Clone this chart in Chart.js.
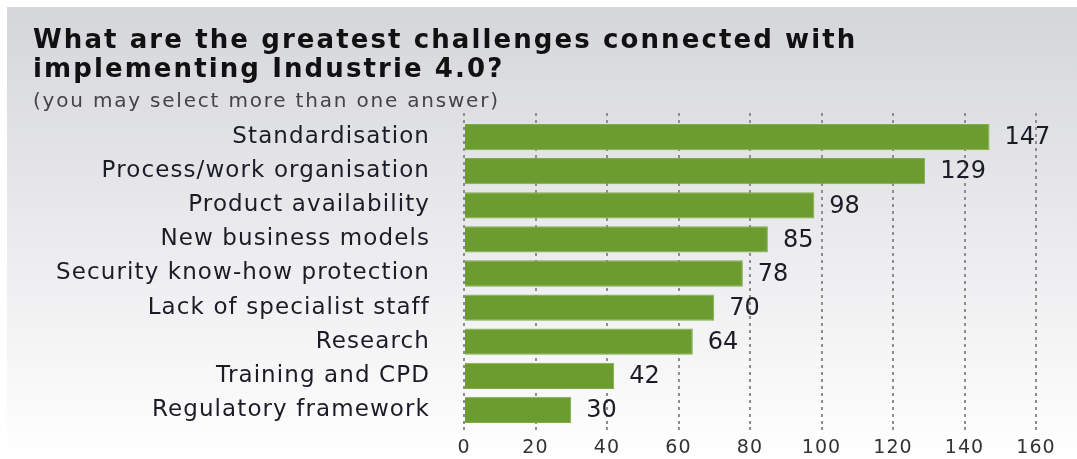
<!DOCTYPE html>
<html>
<head>
<meta charset="utf-8">
<script src="https://cdn.jsdelivr.net/npm/chart.js@4/dist/chart.umd.min.js"></script>
<style>
  html, body { margin: 0; padding: 0; background: #fff; }
  #wrap { width: 1077px; height: 459px; }
</style>
</head>
<body>
<div id="wrap"><canvas id="grafico"></canvas></div>
<script>
// datos
const categorias = [
  "Standardisation",
  "Process/work organisation",
  "Product availability",
  "New business models",
  "Security know-how protection",
  "Lack of specialist staff",
  "Research",
  "Training and CPD",
  "Regulatory framework",
];
const respuestas = [147, 129, 98, 85, 78, 70, 64, 42, 30];
const ticksX = [0, 20, 40, 60, 80, 100, 120, 140, 160];
const titulo = ["What are the greatest challenges connected with", "implementing Industrie 4.0?"];
const subtitulo = "(you may select more than one answer)";

const fuente = "'DejaVu Sans', sans-serif";
const verde = "#6c9b30";

// fondo gris con degradado
const fondo = {
  id: "fondo",
  beforeDraw: (chart) => {
    const { ctx, width, height } = chart;
    ctx.save();
    ctx.fillStyle = "#fff";
    ctx.fillRect(0, 0, width, height);
    let grad = ctx.createLinearGradient(0, 7, 0, height);
    grad.addColorStop(0, "#d5d6da");
    grad.addColorStop(1, "#ffffff");
    ctx.fillStyle = grad;
    ctx.fillRect(7, 7, width - 7, height - 7);
    ctx.restore();
    // letras de los ejes un poco separadas
    ctx.letterSpacing = "1.1px";
  },
};

// título y subtítulo
const encabezado = {
  id: "encabezado",
  afterDraw: (chart) => {
    const { ctx } = chart;
    ctx.save();
    ctx.textAlign = "left";
    ctx.textBaseline = "alphabetic";
    ctx.fillStyle = "#111";
    ctx.font = "bold 26px " + fuente;
    ctx.letterSpacing = "2.1px";
    ctx.fillText(titulo[0], 33, 48);
    ctx.fillText(titulo[1], 33, 77);
    ctx.fillStyle = "#444";
    ctx.font = "20px " + fuente;
    ctx.letterSpacing = "1.8px";
    ctx.fillText(subtitulo, 33, 107);
    ctx.restore();
  },
};

// prolonga las líneas punteadas un poco por encima del área
const rejillaArriba = {
  id: "rejillaArriba",
  beforeDatasetsDraw: (chart) => {
    const { ctx, chartArea } = chart;
    const x = chart.scales.x;
    ctx.save();
    ctx.strokeStyle = "#8e8e8e";
    ctx.lineWidth = 2;
    ctx.setLineDash([3, 4]);
    x.ticks.forEach((t) => {
      let px = Math.round(x.getPixelForValue(t.value));
      ctx.beginPath();
      ctx.moveTo(px, chartArea.top - 7);
      ctx.lineTo(px, chartArea.top);
      ctx.stroke();
    });
    ctx.restore();
  },
};

// números al final de cada barra
const etiquetas = {
  id: "etiquetas",
  afterDatasetsDraw: (chart) => {
    const { ctx } = chart;
    const meta = chart.getDatasetMeta(0);
    ctx.save();
    ctx.letterSpacing = "0px";
    ctx.font = "24px " + fuente;
    ctx.fillStyle = "#1c1c28";
    ctx.textBaseline = "middle";
    ctx.textAlign = "left";
    meta.data.forEach((bar, i) => {
      ctx.fillText(String(respuestas[i]), bar.x + 15, bar.y + 1);
    });
    ctx.restore();
  },
};

let ctx = document.getElementById("grafico");

let miGrafico = new Chart(ctx, {
  type: "bar",
  data: {
    labels: categorias,
    datasets: [
      {
        label: "Respuestas",
        data: respuestas,
        backgroundColor: verde,
        borderColor: "#7fae48",
        borderWidth: 1,
        barPercentage: 0.77,
        categoryPercentage: 1,
      },
    ],
  },
  options: {
    indexAxis: "y",
    responsive: true,
    maintainAspectRatio: false,
    animation: false,
    layout: { padding: { top: 120, left: 33, right: 41, bottom: 0 } },
    plugins: {
      legend: { display: false },
      tooltip: { enabled: false },
      title: { display: false },
    },
    scales: {
      x: {
        min: 0,
        max: 160,
        afterBuildTicks: (scale) => {
          scale.ticks = ticksX.map((v) => ({ value: v }));
        },
        afterFit: (scale) => {
          scale.height = 32;
        },
        border: { display: false, dash: [3, 4] },
        grid: {
          color: "#8e8e8e",
          lineWidth: 2,
          tickBorderDash: [3, 4],
          tickColor: "#8e8e8e",
          tickLength: 5,
        },
        ticks: {
          color: "#333",
          padding: 5,
          font: { family: fuente, size: 19 },
        },
      },
      y: {
        afterFit: (scale) => {
          scale.width = 464 - 33;
          scale.paddingTop = 0;
          scale.paddingBottom = 0;
        },
        border: { display: false },
        grid: { display: false },
        ticks: {
          color: "#1c1c28",
          padding: 26,
          font: { family: fuente, size: 23 },
        },
      },
    },
  },
  plugins: [fondo, encabezado, rejillaArriba, etiquetas],
});
</script>
</body>
</html>
